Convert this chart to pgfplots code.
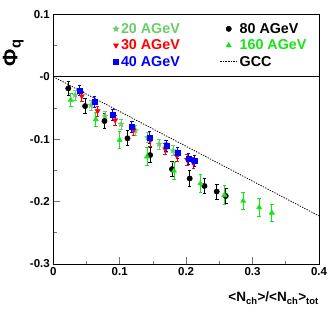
\documentclass[border=0pt]{standalone}
\usepackage{fontspec}
\setmainfont{Liberation Sans}
\usepackage{pgfplots}
\pgfplotsset{compat=1.18}
\usetikzlibrary{plotmarks}
\definecolor{cstar}{RGB}{105,205,105}
\definecolor{cred}{RGB}{255,0,0}
\definecolor{cblue}{RGB}{0,0,255}
\definecolor{cgreen}{RGB}{20,230,20}
\pgfdeclareplotmark{fstar}{%
  \pgfpathmoveto{\pgfpointpolar{90}{\pgfplotmarksize}}%
  \pgfpathlineto{\pgfpointpolar{126}{0.42\pgfplotmarksize}}%
  \pgfpathlineto{\pgfpointpolar{162}{\pgfplotmarksize}}%
  \pgfpathlineto{\pgfpointpolar{198}{0.42\pgfplotmarksize}}%
  \pgfpathlineto{\pgfpointpolar{234}{\pgfplotmarksize}}%
  \pgfpathlineto{\pgfpointpolar{270}{0.42\pgfplotmarksize}}%
  \pgfpathlineto{\pgfpointpolar{306}{\pgfplotmarksize}}%
  \pgfpathlineto{\pgfpointpolar{342}{0.42\pgfplotmarksize}}%
  \pgfpathlineto{\pgfpointpolar{18}{\pgfplotmarksize}}%
  \pgfpathlineto{\pgfpointpolar{54}{0.42\pgfplotmarksize}}%
  \pgfpathclose
  \pgfusepathqfillstroke
}
\begin{document}
\begin{tikzpicture}
\begin{axis}[
  scale only axis, width=265.7bp, height=249.7bp,
  xmin=0, xmax=0.4, ymin=-0.3, ymax=0.1,
  xtick={0,0.1,0.2,0.3,0.4}, xticklabels={0,0.1,0.2,0.3,0.4},
  minor xtick={0.05,0.15,0.25,0.35},
  ytick={-0.3,-0.2,-0.1,0,0.1}, yticklabels={-0.3,-0.2,-0.1,-0,0.1},
  minor ytick={-0.25,-0.15,-0.05,0.05},
  tick pos=left, tick align=inside,
  major tick length=7bp, minor tick length=3.5bp,
  tick style={black!55, line width=0.8bp},
  axis line style={line width=0.8bp},
  ticklabel style={font=\fontsize{11.5bp}{12bp}\selectfont\bfseries},
  xlabel={<N\textsubscript{ch}>/<N\textsubscript{ch}>\textsubscript{tot}},
  xlabel style={at={(axis description cs:1,-0.112)}, anchor=north east, inner sep=0pt, font=\fontsize{13.5bp}{14bp}\selectfont\bfseries},
  ylabel={Φ\textsubscript{q}},
  ylabel style={at={(axis description cs:-0.135,0.90)}, anchor=base east, inner sep=0pt, font=\fontsize{21bp}{21bp}\selectfont\bfseries},
  legend columns=2, legend cell align=left,
  legend style={at={(axis cs:0.085,0.0926)}, anchor=north west, draw=none, fill=none,
    font=\fontsize{14.3bp}{15bp}\selectfont\bfseries, row sep=1bp,
    /tikz/every even column/.append style={column sep=38bp}},
  error bars/error bar style={line width=0.8bp},
  error bars/error mark options={rotate=90, mark size=1.8bp, line width=0.8bp},
]
\addplot[black, line width=0.8bp, forget plot] coordinates {(0,0) (0.4,0)};
% 20 AGeV
\addplot[only marks, mark=fstar, mark size=3.2bp, color=cstar,
  error bars/.cd, y dir=both, y explicit] coordinates {
  (0.0328,-0.0293) +- (0,0.008)
  (0.0569,-0.0454) +- (0,0.008)
  (0.0780,-0.0630) +- (0,0.008)
  (0.1022,-0.0758) +- (0,0.008)
  (0.1234,-0.0862) +- (0,0.008)
  (0.1419,-0.0974) +- (0,0.008)
  (0.1595,-0.1079) +- (0,0.008)
  (0.1701,-0.1127) +- (0,0.008)
  (0.1802,-0.1183) +- (0,0.008)
};
\addlegendentry{\textcolor{cstar}{20 AGeV}}
% 80 AGeV
\addplot[only marks, mark=*, mark size=2.7bp, color=black,
  error bars/.cd, y dir=both, y explicit] coordinates {
  (0.0226,-0.0186) +- (0,0.011)
  (0.0479,-0.0470) +- (0,0.012)
  (0.0770,-0.0710) +- (0,0.012)
  (0.1117,-0.0987) +- (0,0.012)
  (0.1458,-0.1255) +- (0,0.012)
  (0.1787,-0.1480) +- (0,0.012)
  (0.2053,-0.1630) +- (0,0.013)
  (0.2275,-0.1750) +- (0,0.012)
  (0.2460,-0.1840) +- (0,0.012)
  (0.2596,-0.1910) +- (0,0.012)
};
\addlegendentry{80 AGeV}
% 30 AGeV
\addplot[only marks, mark=triangle*, mark size=3bp, mark options={rotate=180}, color=cred,
  error bars/.cd, y dir=both, y explicit] coordinates {
  (0.0429,-0.0309) +- (0,0.008)
  (0.0667,-0.0550) +- (0,0.008)
  (0.0931,-0.0694) +- (0,0.008)
  (0.1208,-0.0854) +- (0,0.008)
  (0.1460,-0.1022) +- (0,0.009)
  (0.1686,-0.1159) +- (0,0.009)
  (0.1863,-0.1271) +- (0,0.009)
  (0.2014,-0.1327) +- (0,0.009)
  (0.2109,-0.1383) +- (0,0.009)
};
\addlegendentry{\textcolor{cred}{30 AGeV}}
% 160 AGeV
\addplot[only marks, mark=triangle*, mark size=3bp, color=cgreen,
  error bars/.cd, y dir=both, y explicit] coordinates {
  (0.0263,-0.0373) +- (0,0.010)
  (0.0640,-0.0683) +- (0,0.011)
  (0.0999,-0.1014) +- (0,0.014)
  (0.1410,-0.1280) +- (0,0.014)
  (0.1817,-0.1510) +- (0,0.014)
  (0.2214,-0.1710) +- (0,0.014)
  (0.2576,-0.1896) +- (0,0.015)
  (0.2859,-0.1990) +- (0,0.014)
  (0.3100,-0.2093) +- (0,0.014)
  (0.3290,-0.2180) +- (0,0.014)
};
\addlegendentry{\textcolor{cgreen}{160 AGeV}}
% 40 AGeV
\addplot[only marks, mark=square*, mark size=2.5bp, color=cblue,
  error bars/.cd, y dir=both, y explicit] coordinates {
  (0.0392,-0.0221) +- (0,0.008)
  (0.0619,-0.0405) +- (0,0.009)
  (0.0897,-0.0609) +- (0,0.009)
  (0.1183,-0.0798) +- (0,0.009)
  (0.1449,-0.0974) +- (0,0.010)
  (0.1701,-0.1111) +- (0,0.009)
  (0.1872,-0.1223) +- (0,0.009)
  (0.2033,-0.1314) +- (0,0.009)
  (0.2128,-0.1346) +- (0,0.009)
};
\addlegendentry{\textcolor{cblue}{40 AGeV}}
% GCC
\addplot[black, line width=0.8bp, dash pattern=on 1.3bp off 1.3bp] coordinates {(0,0) (0.4,-0.223)};
\addlegendentry{GCC}
\end{axis}
\pgfresetboundingbox
\path ([shift={(-53.3bp,-49bp)}]current axis.south west) rectangle ([shift={(13bp,14.3bp)}]current axis.north east);
\end{tikzpicture}
\end{document}
